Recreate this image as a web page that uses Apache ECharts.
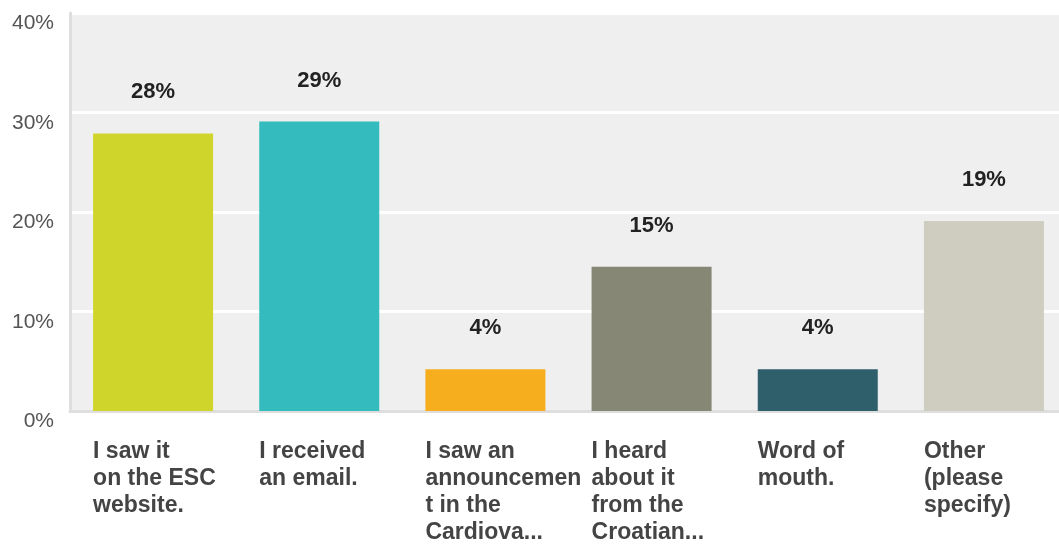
<!DOCTYPE html>
<html><head><meta charset="utf-8">
<script src="https://cdn.jsdelivr.net/npm/echarts@6/dist/echarts.min.js"></script>
<style>html,body{margin:0;padding:0;background:#fff;overflow:hidden}#c{width:1072px;height:544px}</style>
</head><body><div id="c"></div>
<script>
const categories = [
  "I saw it\non the ESC\nwebsite.",
  "I received\nan email.",
  "I saw an\nannouncemen\nt in the\nCardiova...",
  "I heard\nabout it\nfrom the\nCroatian...",
  "Word of\nmouth.",
  "Other\n(please\nspecify)"
];
const values = [27.9, 29.1, 4.2, 14.5, 4.2, 19.1];
const barColors = ["#cfd52a", "#33bbbe", "#f6ae1f", "#878776", "#2e5f6b", "#cfcdc0"];
const yTicks = [0, 10, 20, 30, 40];

const chart = echarts.init(document.getElementById('c'), null, {renderer: 'canvas'});
chart.setOption({
  animation: false,
  grid: {left: 70, top: 13, width: 997, height: 399, backgroundColor: '#efefef', show: true, borderWidth: 0},
  xAxis: {
    type: 'category', data: categories,
    axisLine: {show: true, lineStyle: {color: '#dedede', width: 3}},
    axisTick: {show: false},
    axisLabel: {
      margin: 27, interval: 0,
      formatter: v => v.split('\n').map(l => '{a|' + l + '}').join('\n'),
      rich: {a: {width: 120, align: 'left', fontFamily: 'Liberation Sans, Arial', fontWeight: 'bold', fontSize: 23, lineHeight: 27, color: '#444444'}}
    }
  },
  yAxis: {
    type: 'value', min: 0, max: 40, interval: 10,
    axisLine: {show: true, lineStyle: {color: '#dedede', width: 3}},
    axisTick: {show: false},
    splitLine: {lineStyle: {color: '#ffffff', width: 3}},
    axisLabel: {
      formatter: v => yTicks.includes(v) ? v + '%' : '',
      fontFamily: 'Liberation Sans, Arial', fontSize: 21, color: '#555555',
      margin: 16, verticalAlign: 'top'
    }
  },
  series: [{
    type: 'bar', barWidth: 120,
    data: values.map((v, i) => ({value: v, itemStyle: {color: barColors[i]}})),
    label: {
      show: true, position: 'top', distance: 30,
      formatter: p => Math.round(p.value) + '%',
      fontFamily: 'Liberation Sans, Arial', fontWeight: 'bold', fontSize: 22, color: '#222222'
    }
  }]
});
</script></body></html>
